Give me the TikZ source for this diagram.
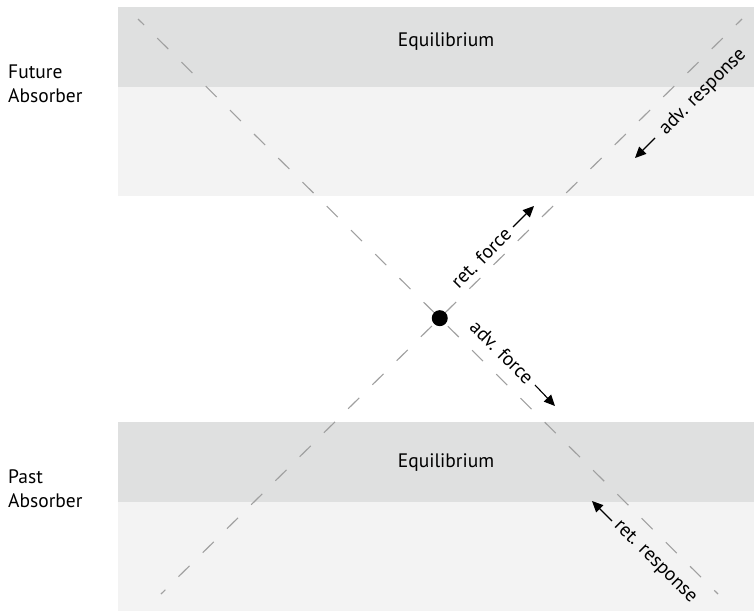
\documentclass[tikz,border=0pt]{standalone}
\usepackage{fontspec}
\setmainfont{PT Sans}
\definecolor{bandgray}{RGB}{223, 224, 224}
\definecolor{bandlight}{RGB}{243, 243, 243}
\definecolor{worldline}{RGB}{160, 160, 160}
\usetikzlibrary{arrows.meta, calc}

\begin{document}
\begin{tikzpicture}[x=1pt, y=-1pt,
    lbl/.style={font=\fontsize{19.5}{24}\selectfont, inner sep=0pt},
    wave/.style={draw=worldline, line width=1.1pt, dash pattern=on 15.5pt off 18.6pt, dash phase=7pt},
    pulse/.style={-{Triangle[length=11pt, width=10pt]}, line width=1.1pt}]
  \useasboundingbox (0,0) rectangle (754,611);

  % Absorber bands
  \fill[bandgray] (118,7) rectangle (754,87);
  \fill[bandlight] (118,87) rectangle (754,196);
  \fill[bandgray] (118,422) rectangle (754,502);
  \fill[bandlight] (118,502) rectangle (754,611);

  \node[lbl, anchor=base] (eqtop) at (446,46) {Equilibrium};
  \node[lbl, anchor=base] (eqbot) at (446,467) {Equilibrium};

  \node[lbl, anchor=west, align=left] (future) at (8,84) {Future\\Absorber};
  \node[lbl, anchor=west, align=left] (past) at (8,489) {Past\\Absorber};

  % Light cone lines
  \coordinate (a1) at (138,19);
  \coordinate (a2) at (718,594);
  \coordinate (b1) at (742,19);
  \coordinate (b2) at (161,594);
  \draw[wave] (a1) -- (a2);
  \draw[wave] (b1) -- (b2);

  \node[circle, fill=black, inner sep=0pt, minimum size=16pt] (src)
    at (intersection of a1--a2 and b1--b2) {};

  % Forces
  \node[lbl, rotate=45] (retf) at (481,258) {ret. force};
  \coordinate (rf1) at (513,227);
  \coordinate (rf2) at (534,206);
  \draw[pulse] (rf1) -- (rf2);

  \node[lbl, rotate=-45] (advf) at (502,352) {adv. force};
  \coordinate (af1) at (535,385);
  \coordinate (af2) at (555,406);
  \draw[pulse] (af1) -- (af2);

  % Responses
  \node[lbl, rotate=45] (advr) at (703,92) {adv. response};
  \coordinate (ar1) at (655,138);
  \coordinate (ar2) at (635,158);
  \draw[pulse] (ar1) -- (ar2);

  \node[lbl, rotate=-45] (retr) at (655,562) {ret. response};
  \coordinate (rr1) at (612,521);
  \coordinate (rr2) at (592,501);
  \draw[pulse] (rr1) -- (rr2);
\end{tikzpicture}
\end{document}
